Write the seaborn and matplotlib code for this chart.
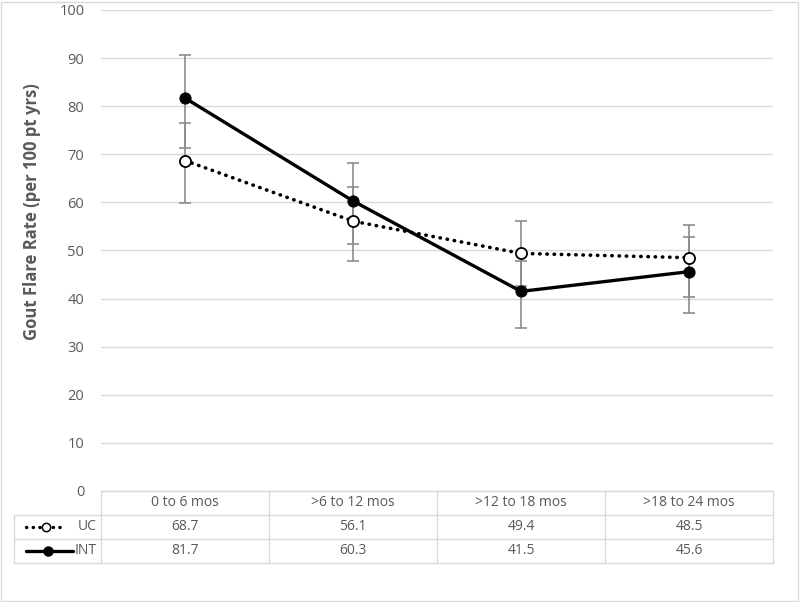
import numpy as np
import pandas as pd
import matplotlib
matplotlib.use("Agg")
import matplotlib.pyplot as plt
import seaborn as sns
from matplotlib.patches import Rectangle

categories = ['0 to 6 mos', '>6 to 12 mos', '>12 to 18 mos', '>18 to 24 mos']
uc = [68.7, 56.1, 49.4, 48.5]
intv = [81.7, 60.3, 41.5, 45.6]
# error bar ends
uc_lo = [59.8, 47.9, 42.7, 40.3]
uc_hi = [76.6, 63.2, 56.1, 55.4]
int_lo = [71.3, 51.3, 33.8, 37.0]
int_hi = [90.7, 68.2, 47.9, 52.9]
yticks = [0, 10, 20, 30, 40, 50, 60, 70, 80, 90, 100]

sns.set_theme(style="white")
plt.rcParams['font.family'] = ['Open Sans', 'DejaVu Sans']

txt = '#595959'
grid = '#d9d9d9'
errc = '#8c8c8c'
dots = (0, (0.1, 1.9))

W, H = 800, 602
fig = plt.figure(figsize=(8, 6.02), dpi=100)

def box(x0, y0, x1, y1):
    return [x0 / W, 1 - y1 / H, (x1 - x0) / W, (y1 - y0) / H]

ax = fig.add_axes(box(101, 10, 773, 491))

pos = np.arange(len(categories))
df = pd.DataFrame({
    'pos': np.concatenate([pos, pos]),
    'rate': uc + intv,
    'group': ['UC'] * 4 + ['INT'] * 4,
})

# error bars first so they sit beneath the lines
for v, lo, hi in [(uc, uc_lo, uc_hi), (intv, int_lo, int_hi)]:
    v = np.array(v)
    ax.errorbar(pos, v, yerr=[v - np.array(lo), np.array(hi) - v], fmt='none',
                ecolor=errc, elinewidth=1.2, capsize=4.5, capthick=1.2, zorder=2)

sns.lineplot(data=df[df.group == 'UC'], x='pos', y='rate', ax=ax, color='black',
             linewidth=2.6, linestyle=dots, dash_capstyle='round',
             marker='o', markersize=8, markerfacecolor='white',
             markeredgecolor='black', markeredgewidth=1.3, zorder=3)
sns.lineplot(data=df[df.group == 'INT'], x='pos', y='rate', ax=ax, color='black',
             linewidth=2.4, marker='o', markersize=8, markerfacecolor='black',
             markeredgecolor='black', zorder=4)

ax.set_xlim(-0.5, 3.5)
ax.set_ylim(0, 100)
ax.set_yticks(yticks)
ax.set_xticks([])
ax.yaxis.grid(True, color=grid, linewidth=1)
ax.set_axisbelow(True)
for s in ax.spines.values():
    s.set_visible(False)
ax.tick_params(axis='y', length=0, pad=12, labelsize=10.5, labelcolor=txt)
ax.set_xlabel('')
ax.set_ylabel('Gout Flare Rate (per 100 pt yrs)', fontsize=12, fontweight='bold',
              color=txt)
ax.yaxis.set_label_coords(-0.09, 0.58)

# data table beneath the plot
tab = fig.add_axes(box(14, 491, 773, 563))
lw_col = 87 / 168
tab.set_xlim(-0.5 - lw_col, 3.5)
tab.set_ylim(3, 0)
tab.axis('off')
lc = dict(color=grid, linewidth=1, clip_on=False)
tab.plot([-0.5, 3.5], [0, 0], **lc)
for r in [1, 2, 3]:
    tab.plot([-0.5 - lw_col, 3.5], [r, r], **lc)
for c in np.arange(-0.5, 4.0, 1.0):
    tab.plot([c, c], [0, 3], **lc)
tab.plot([-0.5 - lw_col] * 2, [1, 3], **lc)

fs = 10
for i, cat in enumerate(categories):
    tab.text(i, 0.5, cat, ha='center', va='center', fontsize=fs, color=txt)
    tab.text(i, 1.5, f'{uc[i]:.1f}', ha='center', va='center', fontsize=fs, color=txt)
    tab.text(i, 2.5, f'{intv[i]:.1f}', ha='center', va='center', fontsize=fs, color=txt)

lx0 = -0.5 - lw_col + 0.07
lx1 = lx0 + 0.26
tab.plot([lx0, lx1 - 0.02], [1.5, 1.5], color='black', linewidth=2.4,
         linestyle=dots, dash_capstyle='round', clip_on=False)
tab.plot([(lx0 + lx1) / 2 - 0.01], [1.5], marker='o', markersize=6, markerfacecolor='white',
         markeredgecolor='black', markeredgewidth=1.1, clip_on=False)
tab.plot([lx0, lx1 + 0.02], [2.5, 2.5], color='black', linewidth=2.4, clip_on=False)
tab.plot([(lx0 + lx1) / 2], [2.5], marker='o', markersize=6.5, color='black', clip_on=False)
tab.text(lx1 + 0.05, 1.5, 'UC', ha='left', va='center', fontsize=fs, color=txt)
tab.text(lx1 + 0.03, 2.5, 'INT', ha='left', va='center', fontsize=fs, color=txt)

fig.patches.append(Rectangle((0.001, 0.002), 0.996, 0.995, transform=fig.transFigure,
                             fill=False, edgecolor='#d9d9d9', linewidth=1))

fig.savefig('out.png', dpi=100)
